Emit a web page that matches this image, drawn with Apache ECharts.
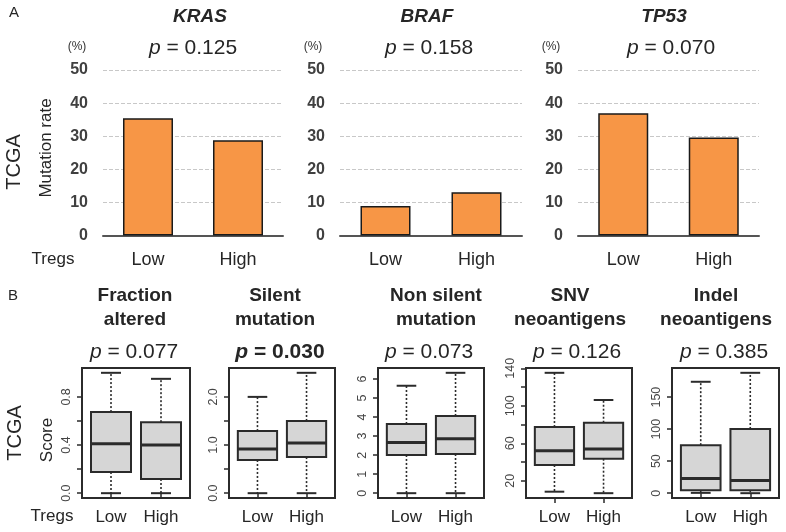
<!DOCTYPE html>
<html><head><meta charset="utf-8">
<script src="https://cdn.jsdelivr.net/npm/echarts@6/dist/echarts.min.js"></script>
<style>html,body{margin:0;padding:0;background:#fff}#c{width:786px;height:532px}</style>
</head><body><div id="c"></div>
<script>
// ---------------- DATA ----------------
const groups = ['Low', 'High'];
const genes = ['KRAS', 'BRAF', 'TP53'];
const krasRate = [35.4, 28.8];
const brafRate = [8.9, 13.1];
const tp53Rate = [36.9, 29.6];
const geneP = ['0.125', '0.158', '0.070'];
const rateTicks = [0, 10, 20, 30, 40, 50];

const scoreTitles = [['Fraction', 'altered'], ['Silent', 'mutation'], ['Non silent', 'mutation'], ['SNV', 'neoantigens'], ['Indel', 'neoantigens']];
const scoreP = ['0.077', '0.030', '0.073', '0.126', '0.385'];
const scorePBold = [false, true, false, false, false];
// box stats: [lower whisker, Q1, median, Q3, upper whisker]
const fractionLow = [0, 0.176, 0.41, 0.674, 1.0];
const fractionHigh = [0, 0.118, 0.40, 0.59, 0.95];
const silentLow = [0, 0.69, 0.92, 1.29, 2.0];
const silentHigh = [0, 0.75, 1.04, 1.50, 2.5];
const nonSilentLow = [0, 2.01, 2.67, 3.64, 5.65];
const nonSilentHigh = [0, 2.06, 2.86, 4.06, 6.33];
const snvLow = [8.3, 36.8, 52, 77.3, 135.2];
const snvHigh = [6.7, 43.5, 53.8, 81.9, 106.2];
const indelLow = [0.5, 4.5, 22.8, 75, 174];
const indelHigh = [0, 4.5, 19.7, 100.3, 188];
// axis ticks and labelled ticks
const fractionTicks = [0, 0.2, 0.4, 0.6, 0.8];
const fractionLabels = [0, 0.4, 0.8];
const silentTicks = [0, 0.5, 1.0, 1.5, 2.0];
const silentLabels = [0, 1.0, 2.0];
const nonSilentTicks = [0, 1, 2, 3, 4, 5, 6];
const nonSilentLabels = [0, 1, 2, 3, 4, 5, 6];
const snvTicks = [20, 40, 60, 80, 100, 120, 140];
const snvLabels = [20, 60, 100, 140];
const indelTicks = [0, 50, 100, 150];
const indelLabels = [0, 50, 100, 150];

// ---------------- LAYOUT ----------------
const FONT = '"Liberation Sans", Arial, sans-serif';
const barSeriesData = [krasRate, brafRate, tp53Rate];
const barGrids = [{left: 103, width: 180}, {left: 340, width: 182}, {left: 578, width: 181}];
const boxSets = [
  {low: fractionLow, high: fractionHigh, ticks: fractionTicks, labels: fractionLabels, dec: 1},
  {low: silentLow, high: silentHigh, ticks: silentTicks, labels: silentLabels, dec: 1},
  {low: nonSilentLow, high: nonSilentHigh, ticks: nonSilentTicks, labels: nonSilentLabels, dec: 0},
  {low: snvLow, high: snvHigh, ticks: snvTicks, labels: snvLabels, dec: 0},
  {low: indelLow, high: indelHigh, ticks: indelTicks, labels: indelLabels, dec: 0}
];
const boxGrids = [{l: 82, r: 190}, {l: 229, r: 335}, {l: 378, r: 484}, {l: 526, r: 632}, {l: 672, r: 779}];

const grid = [], xAxis = [], yAxis = [], series = [];
const DARK = '#262626';

barSeriesData.forEach((vals, i) => {
  grid.push({left: barGrids[i].left, width: barGrids[i].width, top: 70, height: 165.5});
  xAxis.push({
    type: 'category', gridIndex: i, data: groups,
    axisLine: {show: true, lineStyle: {color: '#555', width: 2}},
    axisTick: {show: false},
    axisLabel: {fontSize: 18, color: DARK, fontFamily: FONT, margin: 16}
  });
  yAxis.push({
    type: 'value', gridIndex: i, min: rateTicks[0], max: rateTicks[rateTicks.length - 1], interval: 10,
    axisLine: {show: false}, axisTick: {show: false},
    axisLabel: {fontSize: 16, fontWeight: 'bold', color: '#404040', fontFamily: FONT, margin: 15},
    splitLine: {show: true, lineStyle: {color: '#c8c8c8', type: [4, 2], width: 1}}
  });
  series.push({
    type: 'bar', xAxisIndex: i, yAxisIndex: i, data: vals, barWidth: 50,
    itemStyle: {color: '#f79646', borderColor: '#1a1a1a', borderWidth: 1.5},
    z: 3
  });
});

function renderBox(params, api) {
  const x = api.value(0);
  const mn = api.value(1), q1 = api.value(2), md = api.value(3), q3 = api.value(4), mx = api.value(5);
  const bw = api.size([0.8, 0])[0];
  const cw = api.size([0.4, 0])[0];
  const c = (v) => api.coord([x, v]);
  const pMin = c(mn), pQ1 = c(q1), pMd = c(md), pQ3 = c(q3), pMax = c(mx);
  const cx = pMd[0];
  const stroke = '#2b2b2b';
  return {
    type: 'group',
    children: [
      {type: 'line', shape: {x1: cx, y1: pQ1[1], x2: cx, y2: pMin[1]}, style: {stroke: stroke, lineWidth: 1.6, lineDash: [2, 2]}},
      {type: 'line', shape: {x1: cx, y1: pQ3[1], x2: cx, y2: pMax[1]}, style: {stroke: stroke, lineWidth: 1.6, lineDash: [2, 2]}},
      {type: 'line', shape: {x1: cx - cw / 2, y1: pMin[1], x2: cx + cw / 2, y2: pMin[1]}, style: {stroke: stroke, lineWidth: 2}},
      {type: 'line', shape: {x1: cx - cw / 2, y1: pMax[1], x2: cx + cw / 2, y2: pMax[1]}, style: {stroke: stroke, lineWidth: 2}},
      {type: 'rect', shape: {x: cx - bw / 2, y: pQ3[1], width: bw, height: pQ1[1] - pQ3[1]}, style: {fill: '#d6d6d6', stroke: stroke, lineWidth: 2}},
      {type: 'line', shape: {x1: cx - bw / 2, y1: pMd[1], x2: cx + bw / 2, y2: pMd[1]}, style: {stroke: stroke, lineWidth: 3}}
    ]
  };
}

boxSets.forEach((set, k) => {
  const gi = 3 + k;
  const all = set.low.concat(set.high);
  const lo = Math.min(...all), hi = Math.max(...all);
  const pad = 0.04 * (hi - lo);
  grid.push({left: boxGrids[k].l, width: boxGrids[k].r - boxGrids[k].l, top: 368, height: 130,
    show: true, borderColor: '#2b2b2b', borderWidth: 2, backgroundColor: 'transparent'});
  xAxis.push({
    type: 'value', gridIndex: gi, min: 0.42, max: 2.58,
    axisLine: {show: false}, splitLine: {show: false},
    axisTick: {show: true, customValues: [1, 2], length: 5, lineStyle: {color: '#2b2b2b', width: 1.5}},
    axisLabel: {customValues: [1, 2], formatter: (v) => groups[Math.round(v) - 1], fontSize: 17, color: DARK, fontFamily: FONT, margin: 11}
  });
  yAxis.push({
    type: 'value', gridIndex: gi, min: lo - pad, max: hi + pad,
    axisLine: {show: false}, splitLine: {show: false},
    axisTick: {show: true, customValues: set.ticks, length: 5, lineStyle: {color: '#2b2b2b', width: 1.5}},
    axisLabel: {customValues: set.labels, rotate: 90, formatter: (v) => Number(v).toFixed(set.dec),
      fontSize: 12.5, color: '#444', fontFamily: FONT, margin: 9}
  });
  series.push({
    type: 'custom', xAxisIndex: gi, yAxisIndex: gi, renderItem: renderBox,
    data: [[1].concat(set.low), [2].concat(set.high)], z: 3
  });
});

// ---------------- TEXT ----------------
function txt(text, x, y, opts) {
  opts = opts || {};
  const st = {
    text: text, x: 0, y: 0,
    fontSize: opts.size || 17, fontFamily: FONT, fontWeight: opts.weight || 'normal', fontStyle: opts.style || 'normal',
    fill: opts.color || DARK, align: 'center', verticalAlign: 'middle', textAlign: 'center', textVerticalAlign: 'middle'
  };
  if (opts.rich) st.rich = opts.rich;
  return {type: 'text', x: x, y: y, rotation: opts.rot || 0, style: st, z: 10};
}
const graphics = [];
graphics.push(txt('A', 14, 13, {size: 15}));
graphics.push(txt('B', 13, 296, {size: 15}));
const geneTitleX = [200, 427, 664];
const geneTitlePX = [193, 429, 671];
const pctX = [77, 313, 551];
genes.forEach((g, i) => {
  graphics.push(txt(g, geneTitleX[i], 17, {size: 19, weight: 'bold', style: 'italic'}));
  graphics.push(txt('{i|p} = ' + geneP[i], geneTitlePX[i], 48, {size: 21, rich: {i: {fontStyle: 'italic', fontSize: 21, fontFamily: FONT, fill: DARK}}}));
  graphics.push(txt('(%)', pctX[i], 47, {size: 12, color: '#333'}));
});
graphics.push(txt('TCGA', 14, 162, {size: 20, rot: Math.PI / 2}));
graphics.push(txt('Mutation rate', 46, 148, {size: 17, rot: Math.PI / 2}));
graphics.push(txt('Tregs', 53, 259, {size: 17}));
graphics.push(txt('TCGA', 15, 433, {size: 20, rot: Math.PI / 2}));
graphics.push(txt('Score', 47, 440, {size: 17, rot: Math.PI / 2}));
graphics.push(txt('Tregs', 52, 516, {size: 17}));
const scoreTitleX = [135, 275, 436, 570, 716];
const scorePX = [134, 280, 429, 577, 724];
scoreTitles.forEach((t, k) => {
  graphics.push(txt(t[0], scoreTitleX[k], 296, {size: 19, weight: 'bold'}));
  graphics.push(txt(t[1], scoreTitleX[k], 320, {size: 19, weight: 'bold'}));
  const w = scorePBold[k] ? 'bold' : 'normal';
  graphics.push(txt('{i|p} = ' + scoreP[k], scorePX[k], 352, {size: 21, weight: w,
    rich: {i: {fontStyle: 'italic', fontWeight: w, fontSize: 21, fontFamily: FONT, fill: DARK}}}));
});

const chart = echarts.init(document.getElementById('c'), null, {renderer: 'canvas'});
chart.setOption({
  animation: false,
  backgroundColor: '#fff',
  textStyle: {fontFamily: FONT},
  grid: grid, xAxis: xAxis, yAxis: yAxis, series: series,
  graphic: {elements: graphics}
});
</script></body></html>
